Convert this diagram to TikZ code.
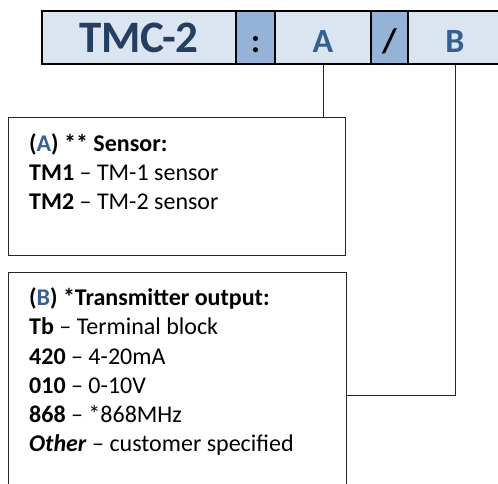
\documentclass[tikz,border=0pt]{standalone}
\usepackage{fontspec}
\setmainfont{Carlito}
\definecolor{cellpale}{HTML}{DBE5F1}
\definecolor{celldark}{HTML}{95B3D7}
\definecolor{navytext}{HTML}{243F60}
\definecolor{codeblue}{HTML}{366092}
\tikzset{
  cell/.style={draw=black, line width=1.4pt, fill=cellpale, inner sep=0pt,
    text height=41.3pt, text depth=11.7pt, anchor=base, font=\bfseries\fontsize{34}{40}\selectfont, text=codeblue},
  sepcell/.style={cell, fill=celldark, text=black},
  infobox/.style={draw=black!85, line width=0.9pt, inner sep=0pt},
  listline/.style={anchor=base west, inner sep=0pt, font=\fontsize{24}{29}\selectfont},
  leader/.style={draw=black!85, line width=1pt}
}
\begin{document}
\begin{tikzpicture}[x=1pt, y=-1pt]
\clip (0,0) rectangle (498,483);
\useasboundingbox (0,0) rectangle (498,483);
% code bar
\node [cell, minimum width=194pt, text=navytext, font=\bfseries\fontsize{45}{50}\selectfont] (cellT) at (139,52.3) {TMC-2};
\node [sepcell, minimum width=39pt] (cellC) at (255.5,52.3) {:};
\node [cell, minimum width=96pt] (cellA) at (323,52.3) {A};
\node [sepcell, minimum width=37pt] (cellS) at (389.5,52.3) {/};
\node [cell, minimum width=94pt] (cellB) at (455,52.3) {B};
% boxes
\node [infobox, minimum width=337pt, minimum height=138pt] (boxA) at (176.5,186) {};
\node [infobox, minimum width=338pt, minimum height=246pt] (boxB) at (177,395) {};
% leaders
\draw [leader] (cellA.south) -- (cellA.south |- boxA.north);
\draw [leader] (cellB.south) |- (boxB.east);
% box A text
\node [listline] (a0) at (29,151.7) {\bfseries(\textcolor{codeblue}{A}) ** Sensor:};
\node [listline] (a1) at (29,180.5) {\textbf{TM1} -- TM-1 sensor};
\node [listline] (a2) at (29,209.3) {\textbf{TM2} -- TM-2 sensor};
% box B text
\node [listline] (b0) at (29,305) {\bfseries(\textcolor{codeblue}{B}) *Transmitter output:};
\node [listline] (b1) at (29,334.5) {\textbf{Tb} -- Terminal block};
\node [listline] (b2) at (29,364) {\textbf{420} -- 4-20mA};
\node [listline] (b3) at (29,393) {\textbf{010} -- 0-10V};
\node [listline] (b4) at (29,422.5) {\textbf{868} -- *868MHz};
\node [listline] (b5) at (29,451.7) {\textbf{\textit{Other}} -- customer specified};
\end{tikzpicture}
\end{document}
